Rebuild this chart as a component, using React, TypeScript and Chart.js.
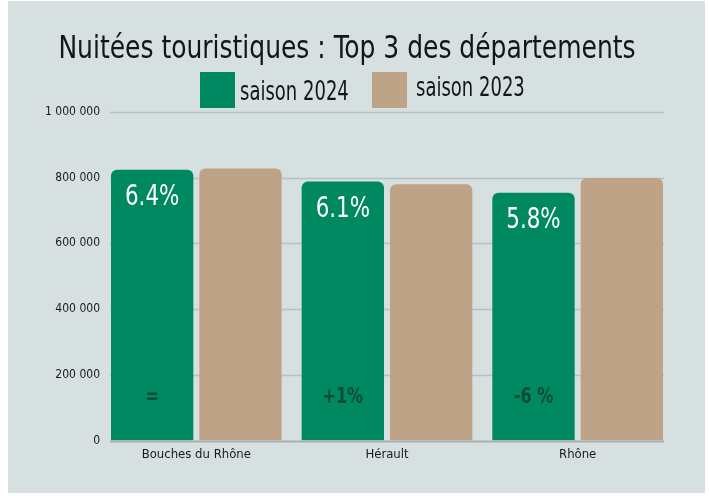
import React, { useEffect, useRef } from "react";
import { Chart, registerables } from "chart.js";

Chart.register(...registerables);

const TITLE = "Nuitées touristiques : Top 3 des départements";
const CATEGORIES = ["Bouches du Rhône", "Hérault", "Rhône"];
const SERIES_NAMES = ["saison 2024", "saison 2023"];
const SEASON_2024 = [824000, 788000, 754000];
const SEASON_2023 = [828000, 780000, 799000];
const SHARE_LABELS = ["6.4%", "6.1%", "5.8%"];
const GROWTH_LABELS = ["=", "+1%", "-6 %"];
const Y_TICKS = [0, 200000, 400000, 600000, 800000, 1000000];

const GREEN = "#008861";
const TAN = "#bfa386";
const BG = "#d7e0e1";
const FONT = "'DejaVu Sans Condensed', 'Liberation Sans Narrow', sans-serif";

function fmt(v: number): string {
  return String(v).replace(/\B(?=(\d{3})+(?!\d))/g, " ");
}

function condensedText(ctx: any, text: string, x: number, y: number, sx: number) {
  ctx.save();
  ctx.translate(x, y);
  ctx.scale(sx, 1);
  ctx.fillText(text, 0, 0);
  ctx.restore();
}

const decorPlugin = {
  id: "decor",
  beforeDatasetsDraw(chart: any) {
    const ctx = chart.ctx;
    const y = chart.scales.y;
    const m0 = chart.getDatasetMeta(0).data;
    const m1 = chart.getDatasetMeta(1).data;
    const x0 = m0[0].x - m0[0].width / 2 - 1;
    const x1 = m1[m1.length - 1].x + m1[m1.length - 1].width / 2 + 1;
    ctx.save();
    ctx.strokeStyle = "#b7c0c2";
    ctx.lineWidth = 1.3;
    Y_TICKS.forEach((v) => {
      if (v === 0) return;
      const py = Math.round(y.getPixelForValue(v)) + 0.5;
      ctx.beginPath();
      ctx.moveTo(x0, py);
      ctx.lineTo(x1, py);
      ctx.stroke();
    });
    ctx.restore();
  },
  afterDatasetsDraw(chart: any) {
    const ctx = chart.ctx;
    const y = chart.scales.y;
    const m0 = chart.getDatasetMeta(0).data;
    const m1 = chart.getDatasetMeta(1).data;
    const x0 = m0[0].x - m0[0].width / 2 - 1;
    const x1 = m1[m1.length - 1].x + m1[m1.length - 1].width / 2 + 1;
    ctx.save();
    // baseline axis
    ctx.strokeStyle = "#a6afb1";
    ctx.lineWidth = 2;
    const by = y.getPixelForValue(0) + 1;
    ctx.beginPath();
    ctx.moveTo(x0, by);
    ctx.lineTo(x1, by);
    ctx.stroke();
    // labels
    ctx.textAlign = "center";
    ctx.textBaseline = "middle";
    m0.forEach((bar: any, i: number) => {
      ctx.fillStyle = "#ffffff";
      ctx.font = `29px ${FONT}`;
      condensedText(ctx, SHARE_LABELS[i], bar.x, bar.y + 28, 0.82);
      ctx.fillStyle = "#0e4a36";
      ctx.font = `bold 21px ${FONT}`;
      condensedText(ctx, GROWTH_LABELS[i], bar.x, bar.base - 43, 0.85);
    });
    ctx.restore();
  },
  afterDraw(chart: any) {
    const ctx = chart.ctx;
    ctx.save();
    // title
    ctx.fillStyle = "#151515";
    ctx.font = `32px ${FONT}`;
    ctx.textAlign = "center";
    ctx.textBaseline = "alphabetic";
    condensedText(ctx, TITLE, 339, 57, 0.868);
    // legend
    const colors = [GREEN, TAN];
    const boxX = [192, 364];
    const textBase = [99, 95];
    ctx.font = `26px ${FONT}`;
    ctx.textAlign = "left";
    for (let i = 0; i < 2; i++) {
      ctx.fillStyle = colors[i];
      ctx.fillRect(boxX[i], 71, 35, 36);
      ctx.fillStyle = "#151515";
      condensedText(ctx, SERIES_NAMES[i], boxX[i] + 40 + (i === 1 ? 4 : 0), textBase[i], 0.77);
    }
    ctx.restore();
  },
};

export default function App() {
  const ref = useRef<HTMLCanvasElement | null>(null);
  useEffect(() => {
    if (!ref.current) return;
    const chart = new Chart(ref.current, {
      type: "bar",
      data: {
        labels: CATEGORIES,
        datasets: [
          {
            label: SERIES_NAMES[0],
            data: SEASON_2024,
            backgroundColor: GREEN,
            borderRadius: 6,
            categoryPercentage: 0.9266,
            barPercentage: 0.932,
          },
          {
            label: SERIES_NAMES[1],
            data: SEASON_2023,
            backgroundColor: TAN,
            borderRadius: 6,
            categoryPercentage: 0.9266,
            barPercentage: 0.932,
          },
        ],
      },
      options: {
        animation: false,
        responsive: false,
        maintainAspectRatio: false,
        layout: { padding: { top: 111, right: 32, bottom: 25, left: 0 } },
        plugins: {
          legend: { display: false },
          title: { display: false },
          tooltip: { enabled: false },
        },
        scales: {
          x: {
            grid: { display: false, drawTicks: false },
            border: { display: false },
            ticks: { color: "#1a1a1a", font: { family: FONT, size: 13 }, padding: 6 },
          },
          y: {
            min: 0,
            max: 1000000,
            afterBuildTicks: (scale: any) => {
              scale.ticks = Y_TICKS.map((v) => ({ value: v }));
            },
            afterFit: (scale: any) => {
              scale.width = 93;
            },
            grid: { display: false, drawTicks: false },
            border: { display: false },
            ticks: {
              color: "#1a1a1a",
              font: { family: FONT, size: 12 },
              padding: 1,
              callback: (v: any) => fmt(Number(v)),
            },
          },
        },
      },
      plugins: [decorPlugin],
    });
    return () => chart.destroy();
  }, []);
  return (
    <div
      style={{
        position: "absolute",
        left: 8,
        top: 1,
        width: 697,
        height: 492,
        background: BG,
      }}
    >
      <canvas ref={ref} width={697} height={492} style={{ display: "block" }} />
    </div>
  );
}
